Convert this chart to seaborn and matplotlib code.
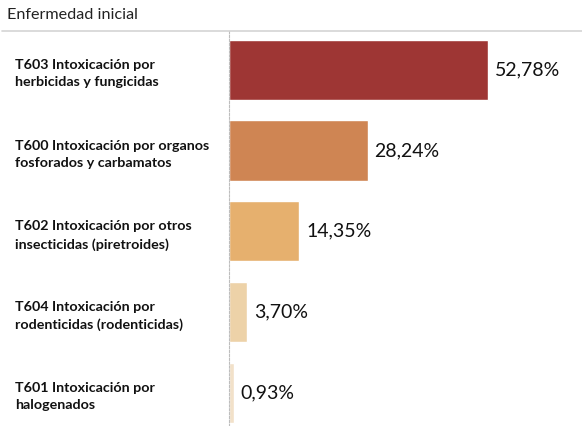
import matplotlib
matplotlib.use("Agg")
import matplotlib.pyplot as plt
import seaborn as sns
import pandas as pd
from matplotlib.lines import Line2D

# datos
categorias = [
    "T603 Intoxicación por\nherbicidas y fungicidas",
    "T600 Intoxicación por organos\nfosforados y carbamatos",
    "T602 Intoxicación por otros\ninsecticidas (piretroides)",
    "T604 Intoxicación por\nrodenticidas (rodenticidas)",
    "T601 Intoxicación por\nhalogenados",
]
porcentajes = [52.78, 28.24, 14.35, 3.70, 0.93]
colores = ["#9e3634", "#cf8553", "#e6b06e", "#edd2a8", "#f2e1c9"]
titulo = "Enfermedad inicial"

df = pd.DataFrame({"categoria": categorias, "porcentaje": porcentajes})

sns.set_style("white")
plt.rcParams["font.family"] = ["Lato", "DejaVu Sans"]

fig = plt.figure(figsize=(5.82, 4.26), dpi=100)
ax = fig.add_axes([229 / 582, 0, 353 / 582, 1 - 31 / 426])

sns.barplot(data=df, x="porcentaje", y="categoria", hue="categoria",
            palette=colores, orient="h", width=0.745, legend=False,
            saturation=1, ax=ax)

ax.set_xlim(0, 71.9)
ax.set_ylim(4.41, -0.48)
ax.set_xlabel("")
ax.set_ylabel("")
ax.set_xticks([])

# etiquetas de categoria alineadas a la izquierda
ax.set_yticks(range(len(categorias)))
ax.set_yticklabels(categorias, ha="left", fontsize=10.3, fontweight="bold",
                   linespacing=1.55, color="#111111")
ax.tick_params(axis="y", length=0, pad=214 * 0.72)

for lado in ["top", "right", "bottom"]:
    ax.spines[lado].set_visible(False)
ax.spines["left"].set_linestyle((0, (2, 1.5)))
ax.spines["left"].set_color("#bdbdbd")
ax.spines["left"].set_linewidth(0.8)

# etiquetas de valor
for cont in ax.containers:
    vals = [b.get_width() for b in cont]
    ax.bar_label(cont, labels=[f"{v:.2f}%".replace(".", ",") for v in vals],
                 padding=5, fontsize=14, color="#111111")

# titulo y linea superior
fig.text(7 / 582, 1 - 15 / 426, titulo, fontsize=11.6, va="center",
         ha="left", color="#222222")
fig.add_artist(Line2D([2 / 582, 1], [1 - 31 / 426, 1 - 31 / 426],
                      color="#d4d4d4", lw=1.2, transform=fig.transFigure))

fig.savefig("out.png", dpi=100)
